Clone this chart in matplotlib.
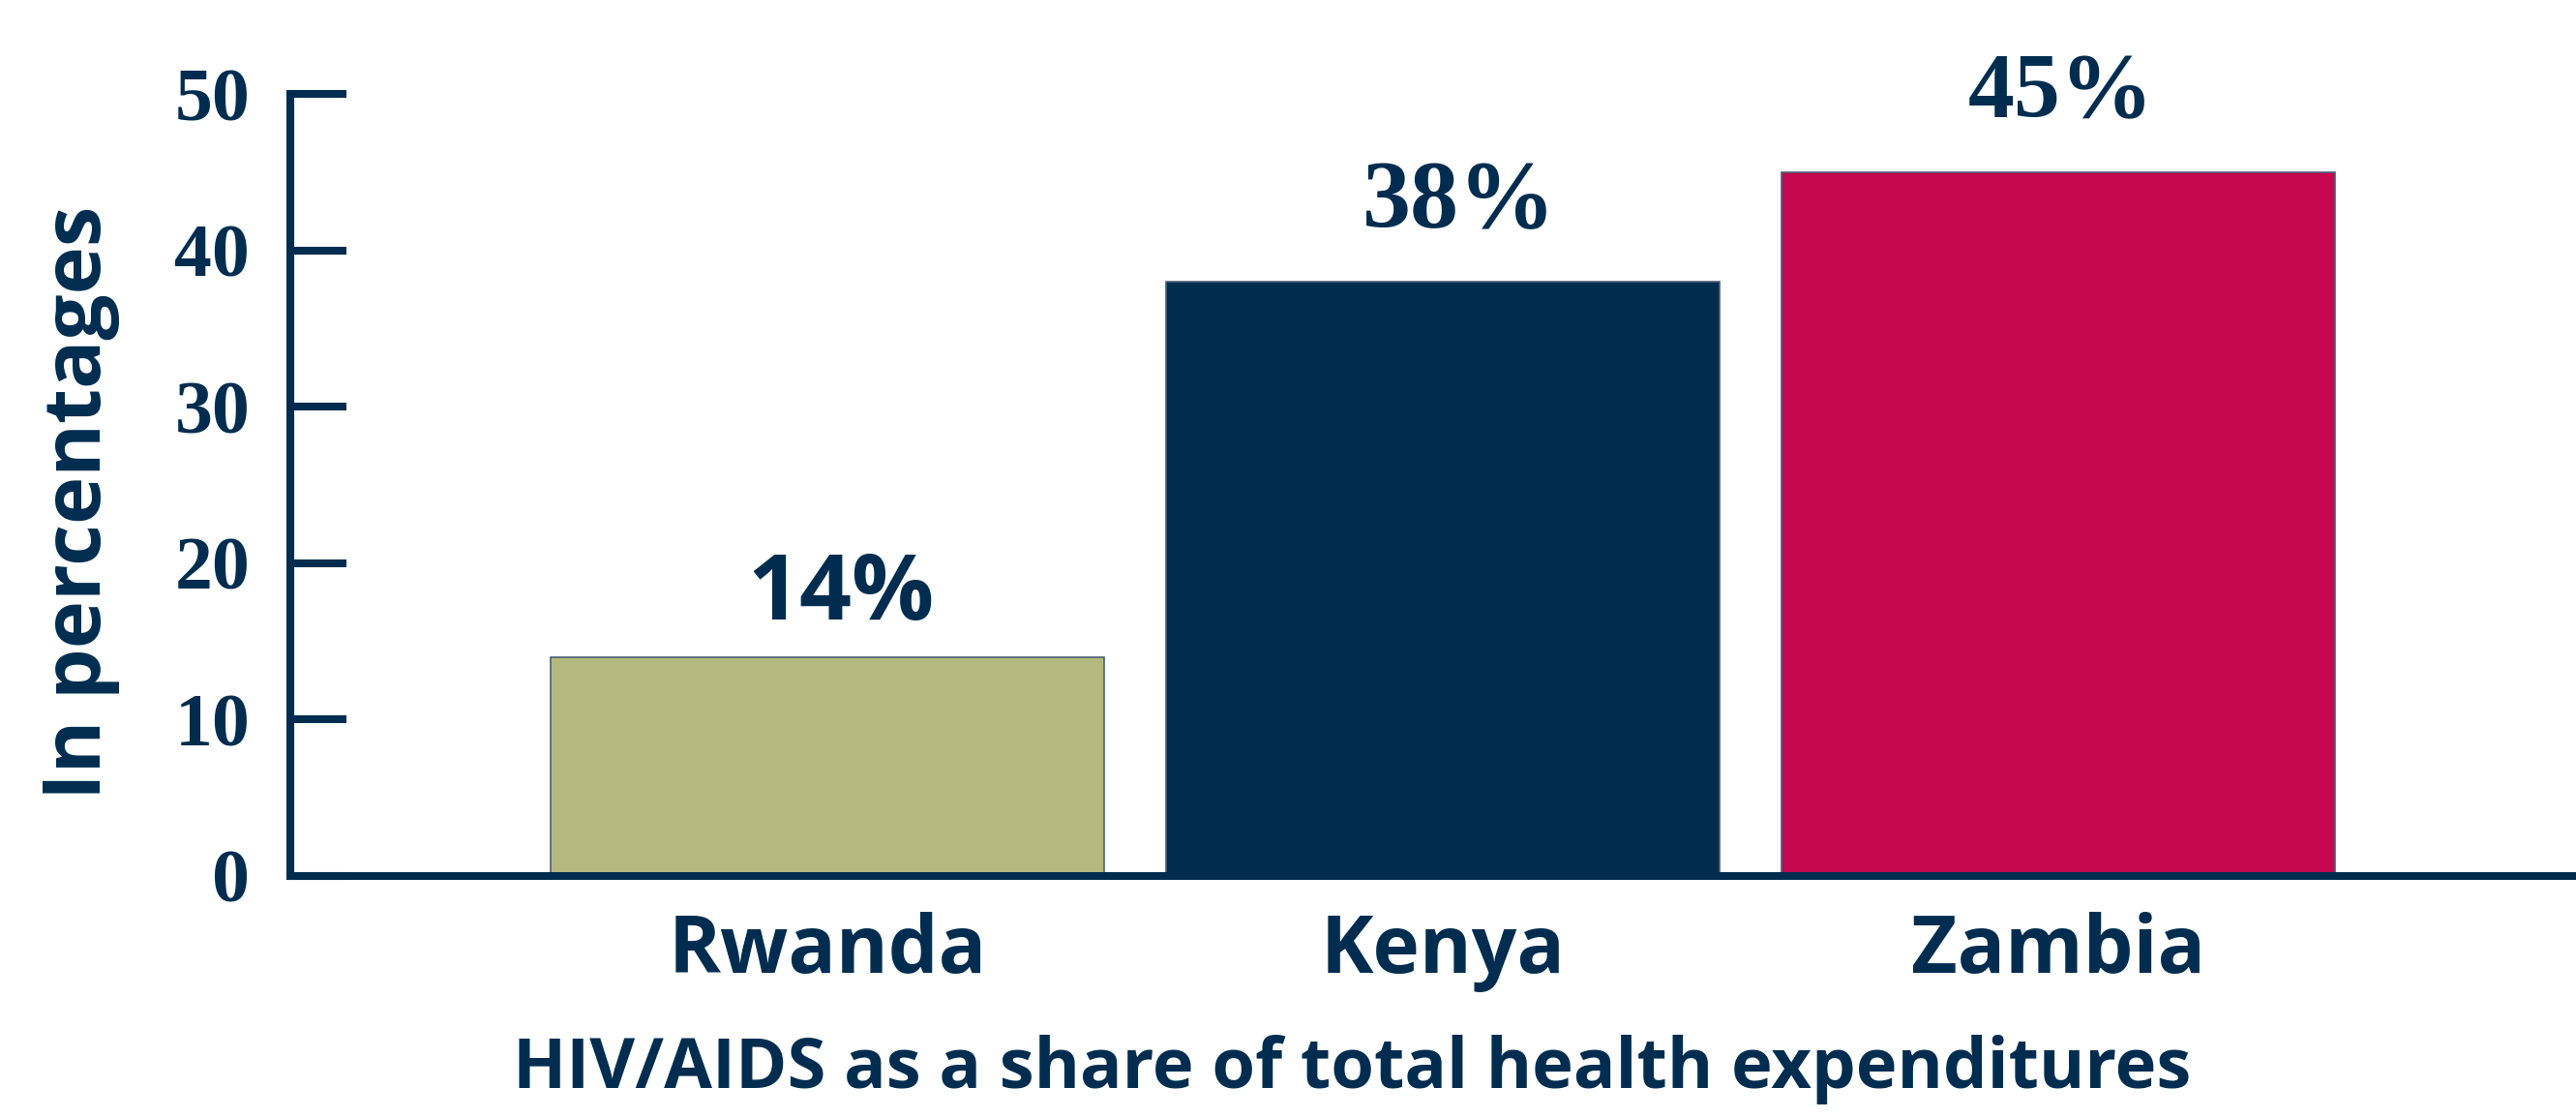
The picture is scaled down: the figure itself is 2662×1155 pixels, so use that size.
import matplotlib
matplotlib.use("Agg")
import matplotlib.pyplot as plt

# data
countries = ["Rwanda", "Kenya", "Zambia"]
shares = [14, 38, 45]
value_labels = ["14%", "38%", "45%"]
bar_colors = ["#B5B97F", "#002D4F", "#C5084F"]
yticks = [0, 10, 20, 30, 40, 50]

NAVY = "#002D4F"
SANS = ["Open Sans", "DejaVu Sans"]
SERIF = ["Liberation Serif", "DejaVu Serif"]

fig = plt.figure(figsize=(26.62, 11.55), dpi=100)
ax = fig.add_axes([0.1127, 0.2165, 0.8873, 0.6995])

x = range(len(countries))
ax.bar(x, shares, width=0.9, color=bar_colors, edgecolor="#4A5F78", linewidth=1.2, zorder=2)

ax.set_xlim(-0.873, 2.841)
ax.set_ylim(0, 50)

for side in ["top", "right"]:
    ax.spines[side].set_visible(False)
for side in ["left", "bottom"]:
    ax.spines[side].set_color(NAVY)
    ax.spines[side].set_linewidth(5.8)
    ax.spines[side].set_zorder(3)

ax.set_yticks(yticks)
ax.set_yticklabels([str(t) for t in yticks], family=SERIF, fontweight="bold",
                   fontsize=56, color=NAVY)
ax.tick_params(axis="y", direction="in", length=42, width=5.8, color=NAVY, pad=30)

ax.set_xticks(list(x))
ax.set_xticklabels(countries, family=SANS, fontweight="bold", fontsize=59, color=NAVY)
ax.tick_params(axis="x", length=0, pad=27)

# value labels above bars: 14% in sans, the others in serif
label_fonts = [SANS, SERIF, SERIF]
label_sizes = [68, 72, 69]
label_offsets = [(10, 28), (12, 41), (2, 41)]
for i, (v, lab) in enumerate(zip(shares, value_labels)):
    ax.annotate(lab, (i, v), xytext=label_offsets[i], textcoords="offset points",
                ha="center", va="baseline", family=label_fonts[i], fontweight="bold",
                fontsize=label_sizes[i], color=NAVY)

fig.text(0.031, 0.55, "In percentages", rotation=90, ha="center", va="center",
         family=SANS, fontweight="bold", fontsize=60, color=NAVY)
fig.text(0.525, 0.027, "HIV/AIDS as a share of total health expenditures",
         ha="center", va="baseline", family=SANS, fontweight="bold",
         fontsize=52, color=NAVY)

fig.savefig("out.png", dpi=100)
